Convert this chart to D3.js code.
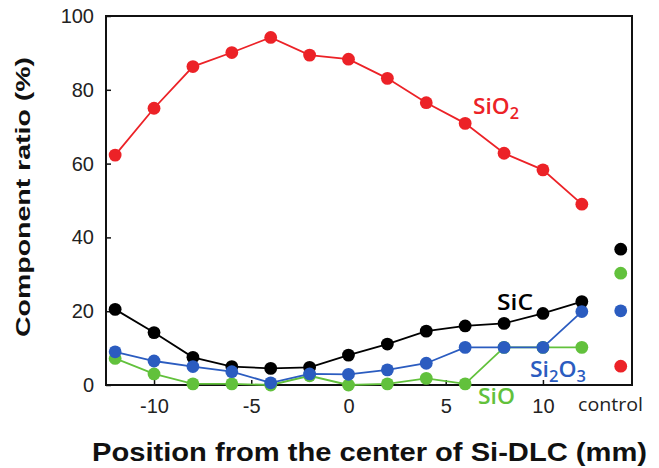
<!DOCTYPE html>
<html><head><meta charset="utf-8">
<script src="https://cdn.jsdelivr.net/npm/d3@7"></script>
<style>body{margin:0;background:#fff}svg{display:block}</style>
</head><body>
<svg id="c" width="659" height="468"></svg>
<script>
const positions = [-12,-10,-8,-6,-4,-2,0,2,4,6,8,10,12];
const sio2  = [62.3,75.0,86.3,90.1,94.2,89.4,88.3,83.1,76.5,70.9,62.8,58.3,49.0];
const sic   = [20.5,14.2,7.5,5.0,4.5,4.8,8.1,11.1,14.6,16.0,16.7,19.4,22.6];
const si2o3 = [9.0,6.5,5.0,3.6,0.6,3.0,2.9,4.1,5.9,10.2,10.2,10.2,19.9];
const sio   = [7.2,3.0,0.3,0.3,0.0,2.5,0.0,0.3,1.8,0.3,10.2,10.2,10.2];
const controlPos = 14;
const controlVals = {sic:36.8, sio:30.3, si2o3:20.1, sio2:5.1};
const xTicks = [-10,-5,0,5,10];
const yTicks = [0,20,40,60,80,100];
const colors = {sio2:"#ec2227", sic:"#000000", si2o3:"#2b5cc0", sio:"#62c13c"};

const svg = d3.select("#c");
const x = d3.scaleLinear().domain([-12.47,14.58]).range([106,632]);
const y = d3.scaleLinear().domain([0,100]).range([385,16]);

// frame
svg.append("rect").attr("x",106).attr("y",16).attr("width",526).attr("height",369)
  .attr("fill","none").attr("stroke","#111").attr("stroke-width",2);

// axes
const xa = svg.append("g").attr("transform","translate(0,385)")
  .call(d3.axisBottom(x).tickValues(xTicks).tickSize(-5).tickPadding(14).tickFormat(d3.format("d")));
const ya = svg.append("g").attr("transform","translate(106,0)")
  .call(d3.axisLeft(y).tickValues(yTicks).tickSize(-5).tickPadding(12));
[xa,ya].forEach(a=>{
  a.select(".domain").remove();
  a.selectAll("line").attr("stroke","#111").attr("stroke-width",1.5);
  a.selectAll("text").attr("font-family","Liberation Sans, Arial, sans-serif").attr("font-size",20).attr("fill","#222");
});
xa.selectAll("text").text(d=>d<0?"-"+Math.abs(d):d);

// series
const series = [
  {key:"sic", vals:sic},
  {key:"sio", vals:sio},
  {key:"si2o3", vals:si2o3},
  {key:"sio2", vals:sio2}
];
const line = d3.line().x(d=>x(d[0])).y(d=>y(d[1]));
series.forEach(s=>{
  const pts = positions.map((p,i)=>[p,s.vals[i]]);
  const g = svg.append("g");
  g.append("path").datum(pts).attr("d",line).attr("fill","none")
    .attr("stroke",colors[s.key]).attr("stroke-width",1.8);
  g.selectAll("circle").data(pts).join("circle")
    .attr("cx",d=>x(d[0])).attr("cy",d=>y(d[1])).attr("r",6.4).attr("fill",colors[s.key]);
});
// control points
Object.keys(controlVals).forEach(k=>{
  svg.append("circle").attr("cx",x(controlPos)).attr("cy",y(controlVals[k])).attr("r",6.4).attr("fill",colors[k]);
});

// labels
const lf = "Open Sans, Lato, sans-serif";
function lab(xp, yp, parts, color, size, len){
  const t = svg.append("text").attr("x",xp).attr("y",yp).attr("font-family",lf)
    .attr("font-size",size).attr("font-weight",600).attr("fill",color)
    .attr("textLength",len).attr("lengthAdjust","spacingAndGlyphs");
  parts.forEach(p=>{
    if(p.sub){
      t.append("tspan").attr("dy",5).attr("font-size",size*0.72).text(p.t);
    } else {
      const ts = t.append("tspan").text(p.t);
      if(p.after) ts.attr("dy",-5);
    }
  });
  return t;
}
lab(473,114,[{t:"SiO"},{t:"2",sub:true}],colors.sio2,22,46);
lab(497,310,[{t:"SiC"}],colors.sic,21,36);
lab(530,377,[{t:"Si"},{t:"2",sub:true},{t:"O",after:true},{t:"3",sub:true}],colors.si2o3,22,56);
lab(478,404,[{t:"SiO"}],colors.sio,21,37);

svg.append("text").attr("x",578).attr("y",411)
  .attr("font-family",lf).attr("font-size",18.5).attr("fill","#222")
  .attr("textLength",65).attr("lengthAdjust","spacingAndGlyphs").text("control");

// axis titles
svg.append("text").attr("x",92).attr("y",461)
  .attr("font-family","Liberation Sans, Arial, sans-serif").attr("font-weight","bold")
  .attr("font-size",25).attr("fill","#111")
  .attr("textLength",555).attr("lengthAdjust","spacingAndGlyphs")
  .text("Position from the center of Si-DLC (mm)");
svg.append("text").attr("transform","translate(30,337) rotate(-90)")
  .attr("font-family","Liberation Sans, Arial, sans-serif").attr("font-weight","bold")
  .attr("font-size",21).attr("fill","#111")
  .attr("textLength",280).attr("lengthAdjust","spacingAndGlyphs")
  .text("Component ratio (%)");
</script>
</body></html>
